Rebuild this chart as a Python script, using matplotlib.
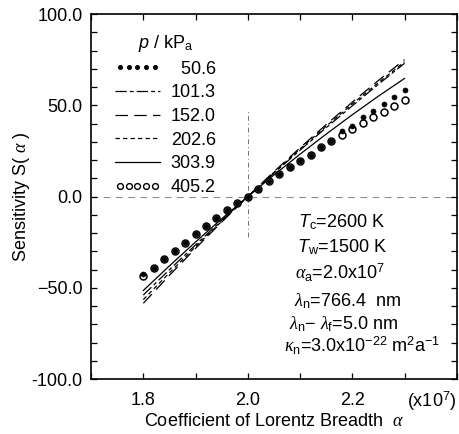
import matplotlib
matplotlib.use("Agg")
import matplotlib.pyplot as plt
from matplotlib.lines import Line2D
from matplotlib.legend_handler import HandlerLine2D
from matplotlib.ticker import MultipleLocator, FixedLocator, FixedFormatter

plt.rcParams['font.family'] = ['Liberation Sans', 'DejaVu Sans']
plt.rcParams['mathtext.fontset'] = 'custom'
plt.rcParams['mathtext.rm'] = 'Liberation Sans'
plt.rcParams['mathtext.it'] = 'Liberation Serif:italic'
plt.rcParams['mathtext.sf'] = 'Liberation Sans:italic'

# ---- data ----
x_pts = [1.80, 1.82, 1.84, 1.86, 1.88, 1.90, 1.92, 1.94, 1.96, 1.98, 2.00,
         2.02, 2.04, 2.06, 2.08, 2.10, 2.12, 2.14, 2.16, 2.18, 2.20,
         2.22, 2.24, 2.26, 2.28, 2.30]
s_506 = [-42.5, -39.1, -34.4, -29.8, -25.2, -20.6, -16.1, -11.7, -7.4, -3.3, 0.0,
         4.3, 8.6, 12.4, 16.2, 19.5, 22.7, 27.0, 30.3, 35.7, 38.9,
         43.8, 47.0, 50.8, 54.6, 58.4]
s_4052 = [-43.7, -39.1, -34.4, -29.8, -25.2, -20.6, -16.1, -11.7, -7.4, -3.3, 0.0,
          4.3, 8.6, 12.4, 16.2, 19.5, 22.7, 27.0, 30.3, 33.5, 36.8,
          40.5, 43.8, 46.5, 49.7, 53.0]

x_line = [1.80, 1.85, 1.90, 1.95, 2.00, 2.05, 2.10, 2.15, 2.20, 2.25, 2.30]
s_1013 = [-54.0, -40.1, -26.5, -13.1, 0.0, 12.8, 25.4, 37.7, 49.7, 61.5, 73.0]
s_1520 = [-58.5, -43.2, -28.4, -14.0, 0.0, 13.6, 26.7, 39.4, 51.7, 63.6, 75.0]
s_2026 = [-56.5, -41.8, -27.5, -13.6, 0.0, 13.2, 26.1, 38.5, 50.7, 62.4, 73.8]
s_3039 = [-51.5, -38.0, -24.9, -12.2, 0.0, 11.8, 23.2, 34.2, 44.8, 55.0, 64.7]

pressures = ['50.6', '101.3', '152.0', '202.6', '303.9', '405.2']

x_ticks = [1.8, 2.0, 2.2]
x_ticklabels = ['1.8', '2.0', '2.2']
y_ticks = [-100, -50, 0, 50, 100]
y_ticklabels = ['-100.0', '\u221250.0', '0.0', '50.0', '100.0']

x_cross = 2.0
y_cross_span = (-22, 47)

FS = 13

fig = plt.figure(figsize=(4.60, 4.34), dpi=100)
ax = fig.add_axes([0.198, 0.1267, 0.795, 0.841])

ax.set_xlim(1.70, 2.40)
ax.set_ylim(-100, 100)

# reference crosshair
ax.axhline(0, color='0.55', lw=0.8, ls=(0, (6, 5)), zorder=1)
ax.vlines(x_cross, *y_cross_span, color='0.45', lw=0.7, ls=(0, (5, 3, 1, 3)), zorder=1)

lw = 0.9
ls_1013 = (0, (9, 2.5, 3, 2.5))
ls_1520 = (0, (10, 5))
ls_2026 = (0, (3.5, 2.5))
ax.plot(x_line, s_1013, color='k', lw=lw, ls=ls_1013)
ax.plot(x_line, s_1520, color='k', lw=lw, ls=ls_1520)
ax.plot(x_line, s_2026, color='k', lw=lw, ls=ls_2026)
ax.plot(x_line, s_3039, color='k', lw=lw, ls='-')
ax.plot(x_pts, s_4052, ls='none', marker='o', ms=5.0, mfc='white', mec='k', mew=1.1)
ax.plot(x_pts, s_506, ls='none', marker='o', ms=3.6, mfc='k', mec='k', mew=0.5)

# ticks
ax.xaxis.set_major_locator(FixedLocator(x_ticks))
ax.xaxis.set_major_formatter(FixedFormatter(x_ticklabels))
ax.xaxis.set_minor_locator(MultipleLocator(0.1))
ax.yaxis.set_major_locator(FixedLocator(y_ticks))
ax.yaxis.set_major_formatter(FixedFormatter(y_ticklabels))
ax.yaxis.set_minor_locator(MultipleLocator(10))
ax.tick_params(which='both', direction='in', top=True, right=True,
               length=4.5, width=0.9, labelsize=FS)
ax.tick_params(axis='x', pad=9.5)
ax.tick_params(axis='y', pad=6)
for s in ax.spines.values():
    s.set_linewidth(1.2)

ax.set_xlabel(r'Coefficient of Lorentz Breadth  $\alpha$', fontsize=FS, labelpad=3)
ax.set_ylabel(r'Sensitivity S( $\alpha$ )', fontsize=FS, labelpad=0)
ax.text(1.0, -0.03, r'(x10$^7$)', transform=ax.transAxes, ha='right', va='top', fontsize=FS)

# legend
h_dots = Line2D([], [], ls='none', marker='o', ms=2.6, mfc='k', mec='k')
h_circ = Line2D([], [], ls='none', marker='o', ms=4.2, mfc='white', mec='k', mew=1.0)
handles = [
    h_dots,
    Line2D([], [], ls=ls_1013, lw=lw, color='k'),
    Line2D([], [], ls=ls_1520, lw=lw, color='k'),
    Line2D([], [], ls=ls_2026, lw=lw, color='k'),
    Line2D([], [], ls='-', lw=lw, color='k'),
    h_circ,
]
labels = ['\u2007' + pressures[0]] + pressures[1:]
leg = ax.legend(handles, labels, loc='upper left', bbox_to_anchor=(0.065, 0.948),
                frameon=False, fontsize=FS, handlelength=2.5, handletextpad=0.6,
                labelspacing=0.37, borderpad=0, borderaxespad=0,
                handler_map={h_dots: HandlerLine2D(numpoints=5),
                             h_circ: HandlerLine2D(numpoints=5)},
                title=r'$\mathsf{p}$ / kP$_\mathrm{a}$', title_fontsize=FS)

# parameter block
params = [
    (0.686, 0.415, r'$\mathsf{T}_\mathrm{c}$=2600 K'),
    (0.686, 0.347, r'$\mathsf{T}_\mathrm{w}$=1500 K'),
    (0.680, 0.273, r'$\alpha_\mathrm{a}$=2.0x10$^7$'),
    (0.700, 0.199, r'$\lambda_\mathrm{n}$=766.4  nm'),
    (0.690, 0.136, r'$\lambda_\mathrm{n}$' + '\u2212 ' + r'$\lambda_\mathrm{f}$=5.0 nm'),
    (0.740, 0.073, r'$\kappa_\mathrm{n}$=3.0x10$^{-22}$ m$^2$a$^{-1}$'),
]
for px, py, t in params:
    ax.text(px, py, t, transform=ax.transAxes, ha='center', va='baseline', fontsize=FS)

fig.savefig('out.png', dpi=100)
